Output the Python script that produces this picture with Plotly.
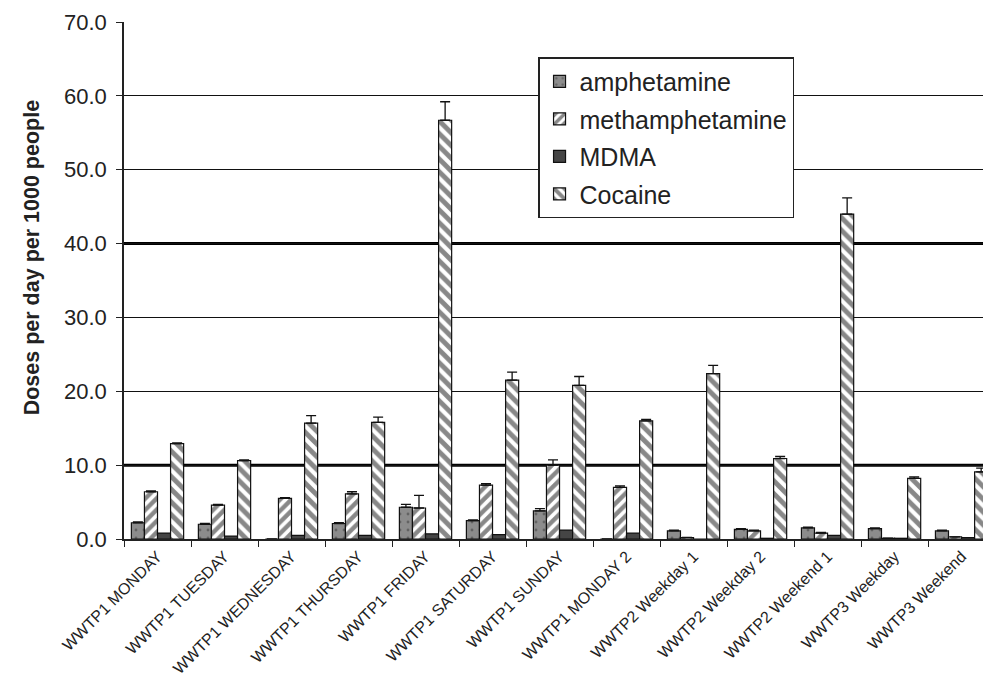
import plotly.graph_objects as go

categories = [
    "WWTP1 MONDAY", "WWTP1 TUESDAY", "WWTP1 WEDNESDAY", "WWTP1 THURSDAY",
    "WWTP1 FRIDAY", "WWTP1 SATURDAY", "WWTP1 SUNDAY", "WWTP1 MONDAY 2",
    "WWTP2 Weekday 1", "WWTP2 Weekday 2", "WWTP2 Weekend 1",
    "WWTP3 Weekday", "WWTP3 Weekend",
]

amphetamine = [2.2, 2.0, 0.0, 2.1, 4.3, 2.5, 3.8, 0.0, 1.1, 1.3, 1.5, 1.4, 1.1]
amphetamine_err = [0.1, 0.1, 0.0, 0.1, 0.4, 0.1, 0.3, 0.0, 0.1, 0.1, 0.1, 0.1, 0.1]

methamphetamine = [6.4, 4.6, 5.5, 6.1, 4.2, 7.3, 10.0, 7.0, 0.2, 1.1, 0.8, 0.1, 0.3]
methamphetamine_err = [0.1, 0.1, 0.1, 0.3, 1.7, 0.2, 0.7, 0.2, 0.0, 0.1, 0.1, 0.0, 0.0]

mdma = [0.8, 0.4, 0.5, 0.5, 0.7, 0.6, 1.2, 0.8, 0.0, 0.1, 0.5, 0.1, 0.2]

cocaine = [12.9, 10.6, 15.7, 15.8, 56.7, 21.5, 20.8, 16.0, 22.4, 10.9, 44.0, 8.2, 9.1]
cocaine_err = [0.1, 0.1, 1.0, 0.7, 2.5, 1.1, 1.2, 0.2, 1.1, 0.3, 2.2, 0.2, 0.5]

y_ticks = [0, 10, 20, 30, 40, 50, 60, 70]
heavy_grid = [10, 40]

no_minus = [0] * len(categories)


def upper_err(values):
    # one-sided (upward) error bars with a short cap
    return dict(type="data", array=values, arrayminus=no_minus, symmetric=False,
                color="#111111", thickness=1.3, width=5)


outline = dict(color="#111111", width=1.2)

fig = go.Figure()
fig.add_trace(go.Bar(
    name="amphetamine", x=categories, y=amphetamine, legendgroup="a",
    error_y=upper_err(amphetamine_err),
    marker=dict(color="#8c8c8c", line=outline,
                pattern=dict(shape=".", fgcolor="#3a3a3a", bgcolor="#8c8c8c",
                             size=8, solidity=0.1)),
))
fig.add_trace(go.Bar(
    name="methamphetamine", x=categories, y=methamphetamine, legendgroup="b",
    error_y=upper_err(methamphetamine_err),
    marker=dict(color="white", line=outline,
                pattern=dict(shape="/", fgcolor="#111111", bgcolor="white",
                             size=8, solidity=0.55)),
))
fig.add_trace(go.Bar(
    name="MDMA", x=categories, y=mdma, legendgroup="c",
    marker=dict(color="#454545", line=outline),
))
fig.add_trace(go.Bar(
    name="Cocaine", x=categories, y=cocaine, legendgroup="d",
    error_y=upper_err(cocaine_err),
    marker=dict(color="white", line=outline,
                pattern=dict(shape="\\", fgcolor="#111111", bgcolor="white",
                             size=9, solidity=0.55)),
))

# thicker reference lines at selected grid levels
for lvl in heavy_grid:
    fig.add_shape(type="line", xref="paper", x0=0, x1=1, yref="y", y0=lvl, y1=lvl,
                  line=dict(color="black", width=3), layer="below")

fig.update_layout(
    width=983, height=682,
    margin=dict(l=124, r=0, t=22, b=143),
    paper_bgcolor="white", plot_bgcolor="white",
    barmode="group", bargap=0.22, bargroupgap=0.0,
    font=dict(family="Liberation Sans, Arial, sans-serif", color="#222222"),
    showlegend=True,
    legend=dict(
        x=0.482, y=0.932, xanchor="left", yanchor="top",
        bgcolor="white", bordercolor="#222222", borderwidth=1.5,
        font=dict(size=25, color="#222222"),
        traceorder="grouped", tracegroupgap=2, itemwidth=30,
    ),
    annotations=[dict(
        text="<b>Doses per day per 1000 people</b>", textangle=-90,
        xref="paper", yref="paper", x=-0.107, y=0.545,
        xanchor="center", yanchor="middle", showarrow=False,
        font=dict(size=21.5, color="#222222"),
    )],
)

fig.update_xaxes(
    range=[-0.5, 12.32],
    tickson="boundaries", ticks="outside", ticklen=6, tickcolor="#222222",
    tickangle=-45, tickfont=dict(size=16, color="#222222"),
    showline=True, linecolor="#222222", linewidth=1.5,
    showgrid=False,
)
fig.update_yaxes(
    range=[0, 70], tickvals=y_ticks, ticktext=[f"{v:.1f}" for v in y_ticks],
    ticks="outside", ticklen=6, tickcolor="#222222",
    tickfont=dict(size=22, color="#222222"), ticklabelstandoff=5,
    showline=True, linecolor="#222222", linewidth=1.5,
    showgrid=True, gridcolor="#111111", gridwidth=1.2,
    zeroline=False,
)

fig.write_html("out.html")
